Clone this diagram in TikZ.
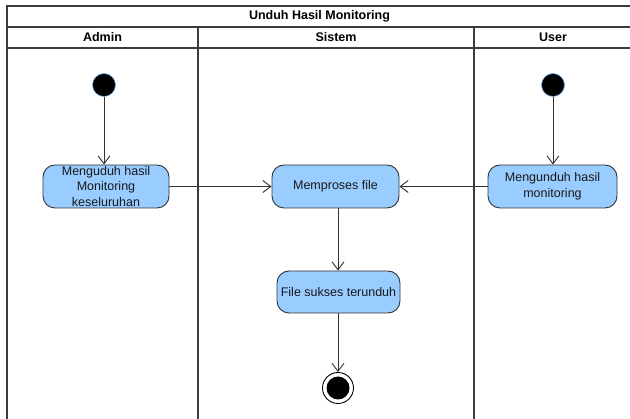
\documentclass[tikz,border=0pt]{standalone}
\usepackage{fontspec}
\setmainfont{Liberation Sans}
\usetikzlibrary{arrows.meta}
\definecolor{lanegray}{HTML}{3C3C3C}
\definecolor{edgegray}{HTML}{333333}
\definecolor{actfill}{HTML}{99CCFF}
\definecolor{startring}{HTML}{6FA8E8}
\begin{document}
\begin{tikzpicture}[x=1pt, y={(0pt,-1pt)},
  lane/.style={draw=lanegray, line width=1.3pt},
  header/.style={font=\fontsize{12.5}{15}\selectfont\bfseries, text=black, inner sep=0pt},
  action/.style={draw=edgegray, fill=actfill, rounded corners=12pt, line width=0.9pt,
    minimum width=126pt, minimum height=43pt, align=center, inner sep=1pt,
    font=\fontsize{12.5}{15.5}\selectfont, text=black!90},
  startnode/.style={circle, fill=black, draw=startring, line width=0.6pt, minimum size=23pt, inner sep=0pt},
  endnode/.style={circle, draw=black, fill=white, line width=0.9pt, minimum size=31pt, inner sep=0pt},
  flow/.style={draw=edgegray, line width=0.9pt, -{Straight Barb[length=8pt,width=12pt,line width=0.9pt]}}
]
\useasboundingbox (0,0) rectangle (630,419);
\clip (0,0) rectangle (630,419);

% swimlane frame
\fill[white] (0,0) rectangle (630,419);
\draw[lane] (7,6) rectangle (632,440);
\draw[lane] (7,27) -- (632,27);
\draw[lane] (7,48) -- (632,48);
\draw[lane] (198,27) -- (198,440);
\draw[lane] (474,27) -- (474,440);

% titles
\node[header] (title) at (319.5,16.5) {Unduh Hasil Monitoring};
\node[header] (hadmin) at (102.5,37.5) {Admin};
\node[header] (hsistem) at (336,37.5) {Sistem};
\node[header] (huser) at (553,37.5) {User};

% nodes
\node[startnode] (s1) at (104,85) {};
\node[startnode] (s2) at (553,85) {};
\node[action] (a1) at (106,186.5) {Menguduh hasil\\Monitoring\\keseluruhan};
\node[action, minimum width=127pt] (a2) at (335.5,186.5) {Memproses file};
\node[action, minimum width=129pt] (a3) at (552.5,186.5) {Mengunduh hasil\\monitoring};
\node[action, minimum width=123pt, minimum height=42pt] (a4) at (338.5,292) {File sukses terunduh};
\node[endnode] (e) at (338,388) {};
\fill[black] (e.center) circle (11.5);

% flows
\draw[flow] (s1) -- (s1 |- a1.north);
\draw[flow] (s2) -- (s2 |- a3.north);
\draw[flow] (a1) -- (a2);
\draw[flow] (a3) -- (a2);
\draw[flow] (a2.south -| 338,0) -- (a4.north -| 338,0);
\draw[flow] (a4.south -| e) -- (e);
\end{tikzpicture}
\end{document}
